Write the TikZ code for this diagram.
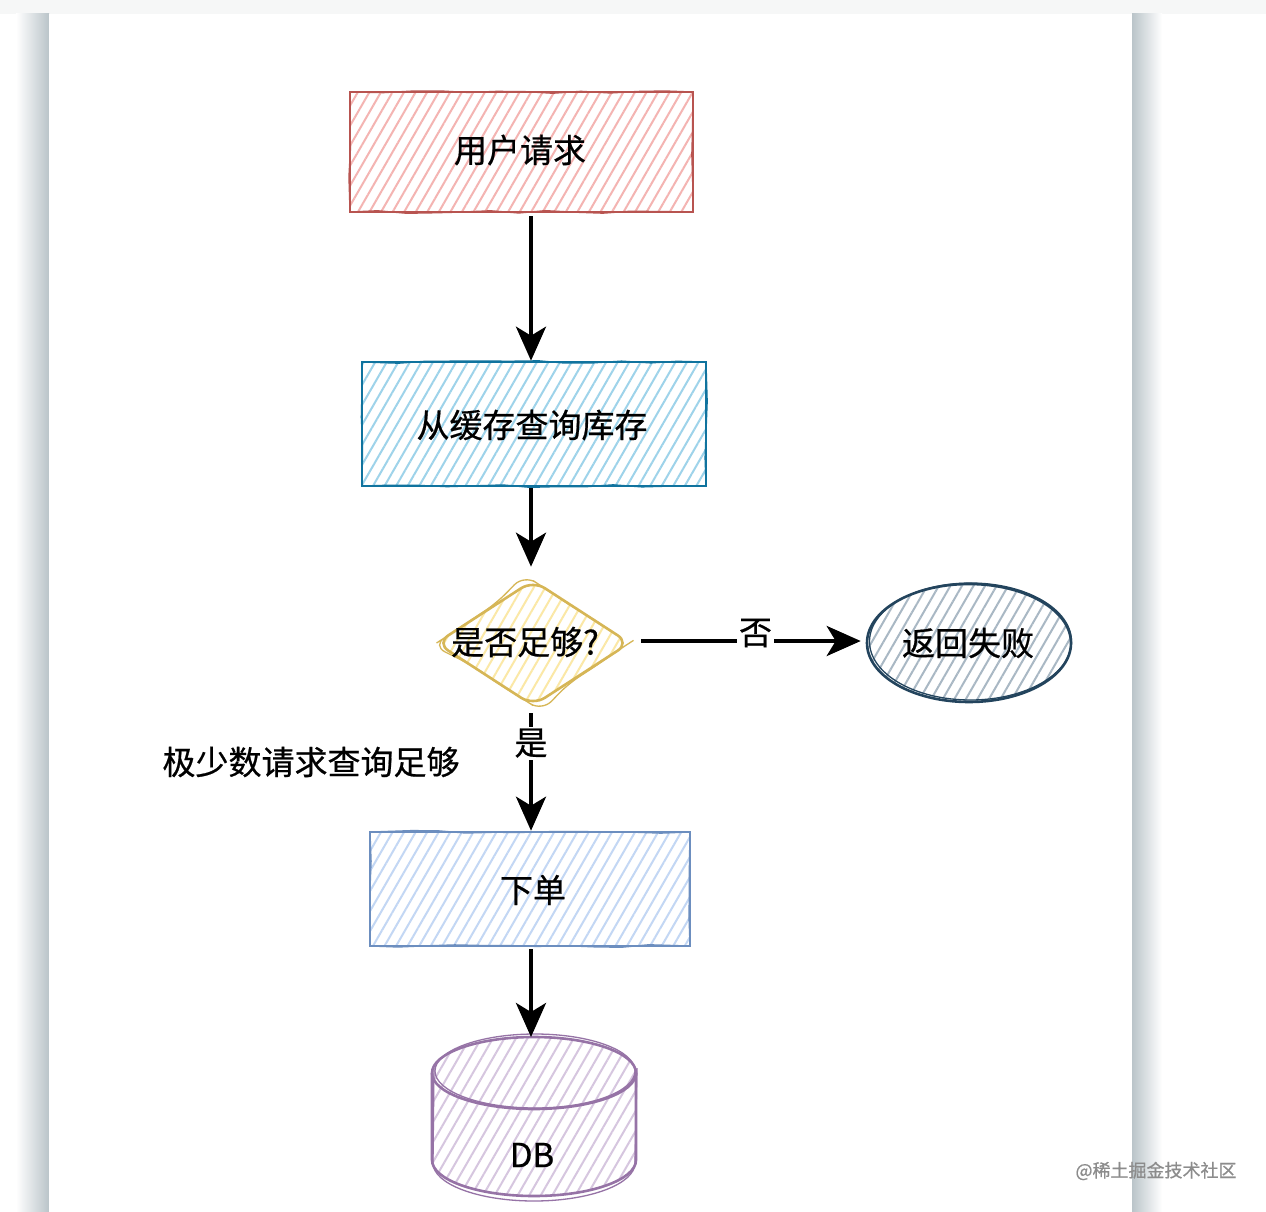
\documentclass[tikz,border=0pt]{standalone}
\usepackage{fontspec}
\setmainfont{Noto Sans CJK SC}[FakeBold=0.6]
\usetikzlibrary{arrows.meta,patterns.meta,shapes.geometric,decorations.pathmorphing}
\definecolor{shadowc}{RGB}{186,196,201}
\definecolor{topc}{RGB}{246,247,247}
\definecolor{redS}{HTML}{B85450}
\definecolor{redH}{HTML}{F4B4B2}
\definecolor{cyanS}{HTML}{10739E}
\definecolor{cyanH}{HTML}{9ED3EA}
\definecolor{yelS}{HTML}{D6B656}
\definecolor{yelH}{HTML}{FBE8A6}
\definecolor{grayS}{HTML}{23445D}
\definecolor{grayH}{HTML}{A9B8C4}
\definecolor{blueS}{HTML}{6C8EBF}
\definecolor{blueH}{HTML}{C3D7F4}
\definecolor{purS}{HTML}{9673A6}
\definecolor{purH}{HTML}{D6C6DF}
\tikzset{
  txt/.style={font=\fontsize{33pt}{40pt}\selectfont, text=black, inner sep=1pt},
  hatch/.style={pattern={Lines[angle=60,distance=10pt,line width=2pt]}, pattern color=#1},
  sketch/.style={line width=2.6pt,
    postaction={draw, decorate, decoration={random steps, segment length=28pt, amplitude=1.4pt}, line width=1.3pt}},
  plainsk/.style={line width=2.6pt},
  second/.style={line width=1.3pt},
  boxshape/.style={rectangle, sketch, inner sep=0pt},
  arr/.style={line width=4pt, -{Stealth[length=34pt,width=30pt,inset=9pt]}},
  lbl/.style={txt, fill=white, inner sep=2pt},
}
\begin{document}
\begin{tikzpicture}[x=1pt,y=-1pt]
\useasboundingbox (0,0) rectangle (1266,1212);
% page background and card
\fill[white] (0,0) rectangle (1266,1212);
\fill[topc] (0,0) rectangle (1266,14);
\shade[left color=white, right color=shadowc] (16,14) rectangle (49,1212);
\shade[left color=shadowc, right color=white] (1132,14) rectangle (1162,1212);
\fill[white] (49,14) rectangle (1132,1212);

\coordinate (axis) at (531,0);

% nodes
\node[boxshape, draw=redS, hatch=redH, minimum width=343pt, minimum height=120pt] (req) at (521.5,152) {};
\node[txt] (reqT) at (520,150) {用户请求};

\node[boxshape, draw=cyanS, hatch=cyanH, minimum width=344pt, minimum height=124pt] (cache) at (534,424) {};
\node[txt] (cacheT) at (532,425) {从缓存查询库存};

\node[diamond, sketch, draw=yelS, hatch=yelH, minimum width=194pt, minimum height=126pt, inner sep=0pt, rounded corners=14pt] (dec) at (533,643) {};
\node[txt] (decT) at (525,642) {是否足够?};

\node[ellipse, plainsk, draw=grayS, hatch=grayH, minimum width=204pt, minimum height=118pt, inner sep=0pt] (fail) at (969,643) {};
\draw[grayS, second] ([xshift=1.5pt,yshift=1.5pt]fail.center) ellipse[x radius=101pt, y radius=58.5pt];
\node[txt] (failT) at (968,643) {返回失败};

\node[boxshape, draw=blueS, hatch=blueH, minimum width=320pt, minimum height=114pt] (order) at (530,889) {};
\node[txt] (orderT) at (533,890) {下单};

% cylinder
\path[hatch=purH] (432,1073) -- (432,1160) arc[start angle=180,end angle=360,x radius=102pt,y radius=36pt] -- (636,1073) arc[start angle=0,end angle=180,x radius=102pt,y radius=36pt] -- cycle;
\draw[purS, plainsk] (432,1073) -- (432,1160) arc[start angle=180,end angle=360,x radius=102pt,y radius=36pt] -- (636,1073);
\draw[purS, plainsk] (534,1073) ellipse[x radius=102pt,y radius=36pt];
\draw[purS, second] (434,1068) -- (433,1163) arc[start angle=180,end angle=360,x radius=101pt,y radius=38pt] -- (637,1068);
\draw[purS, second] (535,1071) ellipse[x radius=100pt,y radius=37pt];
\coordinate (dbtop) at (531,1037);
\node[txt] (dbT) at (532,1155) {DB};

\node[txt] (note) at (311,762) {极少数请求查询足够};

% connectors
\draw[arr] ([yshift=-3pt]req.south -| axis) -- (cache.north -| axis);
\draw[arr, shorten >=12pt] ([yshift=-1pt]cache.south -| axis) -- (dec.north -| axis);
\draw[arr, shorten <=10pt, shorten >=5pt] ([yshift=2pt]dec.east) -- node[lbl, pos=0.53, yshift=8pt] (noL) {否} ([yshift=2pt]fail.west);
\draw[arr, shorten <=6pt] (dec.south -| axis) -- node[lbl, pos=0.29] (yesL) {是} (order.north -| axis);
\draw[arr] ([yshift=-2pt]order.south -| axis) -- (dbtop);

\node[text=black!45, font=\fontsize{18pt}{20pt}\selectfont, inner sep=0pt] (wm) at (1156,1171) {@稀土掘金技术社区};
\end{tikzpicture}
\end{document}
